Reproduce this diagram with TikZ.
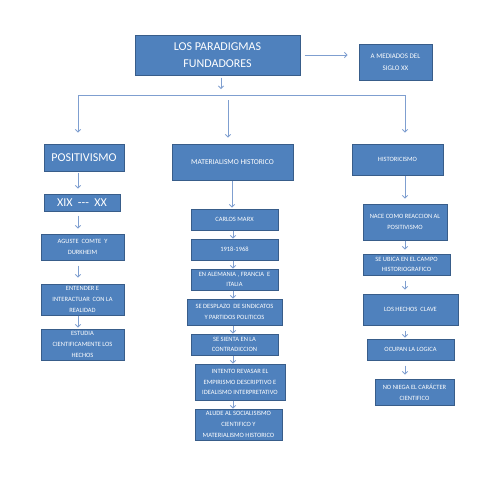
\documentclass[tikz,border=0pt]{standalone}
\usepackage{fontspec}
\setmainfont{Carlito}
\usetikzlibrary{arrows.meta}
\definecolor{boxblue}{HTML}{4F81BD}
\definecolor{boxedge}{HTML}{385D8A}
\definecolor{arrc}{HTML}{7F9FD0}
\tikzset{
  box/.style={rectangle, fill=boxblue, draw=boxedge, line width=1pt, text=white,
    align=center, inner sep=0pt, font=\fontsize{6.5}{10.7}\selectfont},
  bigtxt/.style={font=\fontsize{12}{17}\selectfont},
  midtxt/.style={font=\fontsize{7.5}{11}\selectfont},
  medtxt/.style={font=\fontsize{7}{11.5}\selectfont},
  arr/.style={draw=arrc, line width=0.8pt, -{Straight Barb[length=2.6pt,width=5.5pt]}},
  arrboth/.style={draw=arrc, line width=0.8pt, {Straight Barb[length=2.6pt,width=5.5pt]}-{Straight Barb[length=2.6pt,width=5.5pt]}},
}
\newcommand{\bx}[6]{\node[box,#6, minimum width=#3 pt, minimum height=#4 pt] (#1) at (#2) {#5};}
\begin{document}
\begin{tikzpicture}[x=1pt,y=-1pt]
\useasboundingbox (0,0) rectangle (480,480);
\fill[white] (0,0) rectangle (480,480);
% top
\bx{title}{217.5,55}{165}{40}{LOS PARADIGMAS\\FUNDADORES}{bigtxt}
\bx{mediados}{395.5,62}{73}{36}{A MEDIADOS DEL\\SIGLO XX}{medtxt}
% positivismo column
\bx{pos}{84,157.5}{80}{27}{POSITIVISMO}{bigtxt}
\bx{xix}{82,202.5}{76}{17}{XIX\ \ -\kern0pt-\kern0pt-\ \ XX}{bigtxt}
\bx{aguste}{82.5,247}{83}{26}{AGUSTE\ \ COMTE\ \ Y\\DURKHEIM}{}
\bx{entender}{82.5,299.5}{83}{31}{ENTENDER E\\INTERACTUAR\ \ CON LA\\REALIDAD}{}
\bx{estudia}{82.5,344.5}{83}{31}{ESTUDIA\\CIENTIFICAMENTE LOS\\HECHOS}{}
% materialismo column
\bx{mat}{232.5,162}{121}{36}{MATERIALISMO HISTORICO}{midtxt}
\bx{carlos}{234.5,219.5}{87}{21}{CARLOS MARX}{}
\bx{anios}{234.5,249.5}{87}{21}{1918-1968}{}
\bx{alemania}{234.5,279.5}{87}{21}{EN ALEMANIA , FRANCIA\ \ E\\ITALIA}{}
\bx{desplazo}{234.5,312}{95}{26}{SE DESPLAZO\ \ DE SINDICATOS\\Y PARTIDOS POLITICOS}{}
\bx{sienta}{234.5,344.5}{87}{21}{SE SIENTA EN LA\\CONTRADICCION}{}
\bx{intento}{240,382}{90}{36}{INTENTO REVASAR EL\\EMPIRISMO DESCRIPTIVO E\\IDEALISMO INTERPRETATIVO}{}
\bx{alude}{238.5,424.5}{87}{31}{ALUDE AL SOCIALISISMO\\CIENTIFICO Y\\MATERIALISMO HISTORICO}{}
% historicismo column
\bx{hist}{397.5,159.5}{91}{31}{HISTORICISMO}{}
\bx{nace}{405,222}{84}{36}{NACE COMO REACCION AL\\POSITIVISMO}{}
\bx{ubica}{406.5,264.5}{87}{21}{SE UBICA EN EL CAMPO\\HISTORIOGRAFICO}{}
\bx{hechos}{410.5,309.5}{95}{31}{LOS HECHOS\ \ CLAVE}{}
\bx{ocupan}{410.5,349.5}{87}{21}{OCUPAN LA LOGICA}{}
\bx{noniega}{414.5,392}{79}{26}{NO NIEGA EL CAR\'ACTER\\CIENTIFICO}{}
% helper coordinates
\coordinate (colA) at (78,0);
\coordinate (colB) at (232,0);
\coordinate (colB2) at (233,0);
\coordinate (colC) at (405,0);
\coordinate (colT) at (221,0);
\coordinate (midX) at (228,0);
\coordinate (busL) at (78,95);
\coordinate (busR) at (405,95);
% top connectors
\draw[arr, shorten <=4pt, shorten >=11pt] (title.east) -- (title.east -| mediados.west);
\draw[arr, shorten <=2pt, shorten >=6pt] (title.south -| colT) -- (busL -| colT);
\draw[arrboth, shorten <=11pt, shorten >=11pt] (pos.north -| busL) -- (busL) -- (busR) -- (hist.north -| busR);
\draw[arr, shorten <=5pt, shorten >=6pt] (busL -| midX) -- (mat.north -| midX);
% positivismo
\draw[arr, shorten <=1pt, shorten >=5pt] (pos.south -| colA) -- (xix.north -| colA);
\draw[arr, shorten <=4pt, shorten >=5pt] (xix.south -| colA) -- (aguste.north -| colA);
\draw[arr, shorten <=5pt, shorten >=6pt] (aguste.south -| colA) -- (entender.north -| colA);
\draw[arr, shorten >=1pt] (entender.south -| colA) -- (estudia.north -| colA);
% materialismo
\draw[arr, shorten >=1pt] (mat.south -| colB) -- (carlos.north -| colB);
\draw[arr] (carlos.south -| colB2) -- (anios.north -| colB2);
\draw[arr] (anios.south -| colB2) -- (alemania.north -| colB2);
\draw[arr] (alemania.south -| colB2) -- (desplazo.north -| colB2);
\draw[arr] (desplazo.south -| colB2) -- (sienta.north -| colB2);
\draw[arr] (sienta.south -| colB2) -- (intento.north -| colB2);
\draw[arr] (intento.south -| colB2) -- (alude.north -| colB2);
% historicismo
\draw[arr, shorten >=5pt] (hist.south -| colC) -- (nace.north -| colC);
\draw[arr, shorten >=4pt] (nace.south -| colC) -- (ubica.north -| colC);
\draw[arr, shorten <=5pt, shorten >=4pt] (ubica.south -| colC) -- (hechos.north -| colC);
\draw[arr, shorten <=5pt, shorten >=1pt] (hechos.south -| colC) -- (ocupan.north -| colC);
\draw[arr, shorten <=5pt, shorten >=4pt] (ocupan.south -| colC) -- (noniega.north -| colC);
\end{tikzpicture}
\end{document}
